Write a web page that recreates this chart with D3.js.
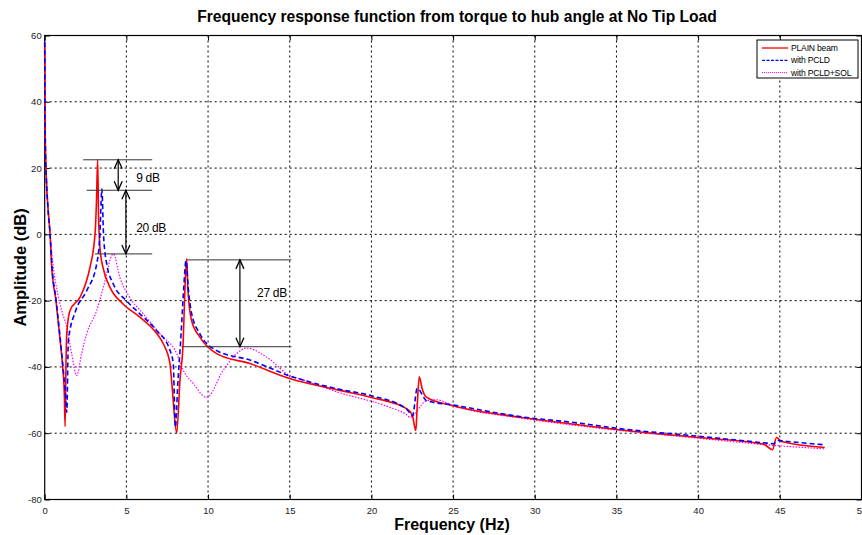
<!DOCTYPE html>
<html>
<head>
<meta charset="utf-8">
<script src="https://cdn.jsdelivr.net/npm/d3@7"></script>
<style>
  body { margin: 0; background: #fff; }
  svg { font-family: Arial, "Liberation Sans", sans-serif; }
</style>
</head>
<body>
<svg id="chart" width="862" height="535"></svg>
<script>
// ---- data (frequency Hz, amplitude dB) ----
const xTicks = [0, 5, 10, 15, 20, 25, 30, 35, 40, 45, 50];
const yTicks = [-80, -60, -40, -20, 0, 20, 40, 60];

const plainBeam = [
  [0, 58], [0.02, 35], [0.05, 25], [0.1, 17], [0.2, 8], [0.33, 0], [0.43, -10], [0.69, -20],
  [0.9, -30], [1.1, -40], [1.2, -48], [1.25, -58], [1.3, -40], [1.35, -30], [1.55, -23],
  [2.16, -19], [2.5, -15], [2.77, -10], [3.08, 0], [3.17, 10], [3.24, 22.5], [3.3, 5],
  [3.4, -5], [3.57, -10], [4.0, -16], [4.8, -21], [5.83, -25], [6.87, -30], [7.26, -33],
  [7.67, -39], [7.8, -46], [8.08, -60], [8.28, -44], [8.48, -32], [8.58, -17], [8.69, -7.4],
  [8.77, -17], [8.99, -26], [9.5, -31], [10.53, -36], [12.57, -39], [15.0, -43.5],
  [18.0, -47], [20.0, -49.2], [22.15, -52.6], [22.5, -54.5], [22.72, -59.2], [22.8, -52],
  [22.93, -43], [23.1, -46.5], [23.38, -49.2], [25.0, -51.7], [29.1, -55.2], [32.76, -57.5],
  [35.0, -58.9], [40.0, -61.3], [44.0, -63.3], [44.55, -65], [44.8, -61.3], [45.1, -62.5],
  [47.75, -64.3]
];

const withPCLD = [
  [0, 58], [0.02, 35], [0.05, 25], [0.1, 17], [0.2, 8], [0.33, 0], [0.45, -10], [0.7, -20],
  [0.92, -30], [1.12, -40], [1.25, -47], [1.35, -53.7], [1.45, -32], [1.9, -23], [2.57, -17],
  [3.18, -9], [3.38, 0], [3.5, 13.7], [3.6, 0], [3.8, -9], [4.2, -15], [5.0, -20],
  [5.83, -24], [6.85, -29], [7.67, -35], [7.87, -39], [8.0, -58.2], [8.15, -45], [8.35, -30],
  [8.5, -17], [8.65, -8], [8.8, -17], [9.0, -24], [9.5, -30], [10.5, -35], [12.6, -38],
  [15.0, -42.7], [18.0, -46.7], [20.0, -48.7], [22.15, -52.7], [22.52, -54.7], [22.8, -46.5],
  [23.38, -50.2], [25.0, -51.5], [29.1, -55.0], [32.8, -57], [35.0, -58.5], [40.0, -60.9],
  [44.2, -63.0], [44.6, -63.2], [44.9, -62.2], [45.5, -62.5], [47.75, -63.5]
];

const withPCLDSOL = [
  [0, 58], [0.02, 35], [0.05, 25], [0.1, 17], [0.2, 8], [0.33, 0], [0.53, -10], [0.8, -18],
  [1.04, -23], [1.35, -28], [1.65, -36], [1.96, -42.6], [2.26, -36], [2.57, -30], [3.18, -23],
  [3.59, -16], [4.2, -5.9], [4.6, -13], [5.2, -19], [6.04, -24], [7.05, -30], [8.08, -36],
  [8.48, -41], [9.09, -45], [9.91, -49.2], [10.93, -41], [11.75, -36], [12.36, -34.3],
  [13.58, -37], [15.0, -42.6], [15.62, -43.6], [18.0, -47.7], [21.13, -52.2], [22.15, -54.4],
  [22.36, -55.2], [23.38, -50.2], [23.99, -49.9], [25.0, -51.7], [29.1, -55.4], [32.76, -57.8],
  [40.0, -61.5], [44.97, -63.8], [47.75, -64.7]
];

const seriesNames = ['PLAIN beam', 'with PCLD', 'with PCLD+SOL'];
const seriesData = [plainBeam, withPCLD, withPCLDSOL];

// annotation levels (dB) and spans (Hz)
const peakLevels1 = [[22.5, 2.36, 6.58], [13.3, 2.57, 6.58], [-5.9, 3.08, 6.58]];
const peakLevels2 = [[-7.7, 8.69, 15.1], [-33.9, 8.38, 15.1]];
const gapArrows = [
  { f: 4.5, top: 22.5, bottom: 13.3, label: '9 dB', lf: 5.6, ldb: 17.2 },
  { f: 4.97, top: 13.3, bottom: -5.9, label: '20 dB', lf: 5.6, ldb: 1.9 },
  { f: 11.95, top: -7.7, bottom: -33.9, label: '27 dB', lf: 13.0, ldb: -17.7 }
];

// ---- chart ----
const svg = d3.select('#chart');
const pLeft = 44.7, pRight = 861.5, pTop = 35.5, pBottom = 499.5;

const x = d3.scaleLinear().domain([0, 50]).range([pLeft, pRight]);
const y = d3.scaleLinear().domain([-80, 60]).range([pBottom, pTop]);

// grid
const grid = svg.append('g');
grid.selectAll('.gx').data(xTicks.slice(1, -1)).enter().append('line')
  .attr('x1', d => x(d)).attr('x2', d => x(d)).attr('y1', pTop).attr('y2', pBottom)
  .attr('stroke', '#000').attr('stroke-width', 1).attr('stroke-dasharray', '2,3');
grid.selectAll('.gy').data(yTicks.slice(1, -1)).enter().append('line')
  .attr('y1', d => y(d)).attr('y2', d => y(d)).attr('x1', pLeft).attr('x2', pRight)
  .attr('stroke', '#000').attr('stroke-width', 1).attr('stroke-dasharray', '2,3');

// axes frame and ticks
svg.append('rect').attr('x', pLeft).attr('y', pTop).attr('width', pRight - pLeft).attr('height', pBottom - pTop)
  .attr('fill', 'none').attr('stroke', '#000').attr('stroke-width', 1.2);

const fmt = d => String(d);
const axB = d3.axisBottom(x).tickValues(xTicks).tickSize(-5).tickPadding(8).tickFormat(fmt);
const axL = d3.axisLeft(y).tickValues(yTicks).tickSize(-5).tickPadding(3).tickFormat(fmt);
const axT = d3.axisTop(x).tickValues(xTicks).tickSize(-5).tickFormat('');
const axR = d3.axisRight(y).tickValues(yTicks).tickSize(-5).tickFormat('');

function styleAxis(g) {
  g.select('.domain').remove();
  g.selectAll('.tick line').attr('stroke', '#000');
  g.selectAll('.tick text').attr('font-size', 9.5).attr('fill', '#222').attr('font-family', 'Arial, "Liberation Sans", sans-serif');
}
svg.append('g').attr('transform', `translate(0,${pBottom})`).call(axB).call(styleAxis);
svg.append('g').attr('transform', `translate(${pLeft},0)`).call(axL).call(styleAxis);
svg.append('g').attr('transform', `translate(0,${pTop})`).call(axT).call(styleAxis);
svg.append('g').attr('transform', `translate(${pRight},0)`).call(axR).call(styleAxis);

// curves (drawn over the frame, as in the reference)
const line = d3.line().x(d => x(d[0])).y(d => y(d[1])).curve(d3.curveMonotoneX);
const styles = [
  { color: '#ff0000', width: 1.6, dash: null },
  { color: '#0000ff', width: 1.6, dash: '5,3' },
  { color: '#ff00ff', width: 1.2, dash: '1.5,1.5' }
];
svg.append('clipPath').attr('id', 'clip').append('rect')
  .attr('x', pLeft - 1.5).attr('y', pTop).attr('width', pRight - pLeft + 1.5).attr('height', pBottom - pTop);

[2, 0, 1].forEach(i => {
  svg.append('path').datum(seriesData[i])
    .attr('clip-path', 'url(#clip)')
    .attr('d', line)
    .attr('fill', 'none')
    .attr('stroke', styles[i].color)
    .attr('stroke-width', styles[i].width)
    .attr('stroke-dasharray', styles[i].dash);
});

// annotations
const ann = svg.append('g').attr('stroke', '#333').attr('stroke-width', 1);
ann.selectAll('.l1').data(peakLevels1.concat(peakLevels2)).enter().append('line')
  .attr('x1', d => x(d[1])).attr('x2', d => x(d[2]))
  .attr('y1', d => y(d[0])).attr('y2', d => y(d[0]));

function arrowHead(g, px, py, dir) {
  g.append('path')
    .attr('d', `M${px - 4},${py - dir * 9} L${px},${py} L${px + 4},${py - dir * 9}`)
    .attr('fill', 'none').attr('stroke', '#000').attr('stroke-width', 1.3);
}
gapArrows.forEach(a => {
  const g = svg.append('g');
  const px = x(a.f), y1 = y(a.top), y2 = y(a.bottom);
  g.append('line').attr('x1', px).attr('x2', px).attr('y1', y1).attr('y2', y2)
    .attr('stroke', '#000').attr('stroke-width', 1.2);
  arrowHead(g, px, y1, -1);
  arrowHead(g, px, y2, 1);
  g.append('text').attr('x', x(a.lf)).attr('y', y(a.ldb)).attr('dy', '0.35em')
    .attr('font-size', 12).attr('fill', '#000').attr('letter-spacing', '-0.3')
    .text(a.label);
});

// legend
const lg = svg.append('g');
lg.append('rect').attr('x', 757).attr('y', 40).attr('width', 101).attr('height', 38)
  .attr('fill', '#fff').attr('stroke', '#000').attr('stroke-width', 1);
seriesNames.forEach((name, i) => {
  const ly = 48 + i * 12.3;
  lg.append('line').attr('x1', 762).attr('x2', 788).attr('y1', ly).attr('y2', ly)
    .attr('stroke', styles[i].color).attr('stroke-width', i === 2 ? 1 : 1.3)
    .attr('stroke-dasharray', i === 1 ? '3,1.5' : (i === 2 ? '1,1' : null));
  lg.append('text').attr('x', 791).attr('y', ly).attr('dy', '0.35em')
    .attr('font-size', 8.6).attr('fill', '#000').attr('letter-spacing', '-0.2').text(name);
});

// titles
svg.append('text').attr('x', 457).attr('y', 22).attr('text-anchor', 'middle')
  .attr('font-size', 15.6).attr('font-weight', 'bold').attr('fill', '#000')
  .text('Frequency response function from torque to hub angle at No Tip Load');
svg.append('text').attr('x', 452).attr('y', 530).attr('text-anchor', 'middle')
  .attr('font-size', 16).attr('font-weight', 'bold').attr('fill', '#000')
  .text('Frequency (Hz)');
svg.append('text').attr('transform', `translate(26,${(pTop + pBottom) / 2}) rotate(-90)`)
  .attr('text-anchor', 'middle')
  .attr('font-size', 16.5).attr('font-weight', 'bold').attr('fill', '#000')
  .text('Amplitude (dB)');
</script>
</body>
</html>
